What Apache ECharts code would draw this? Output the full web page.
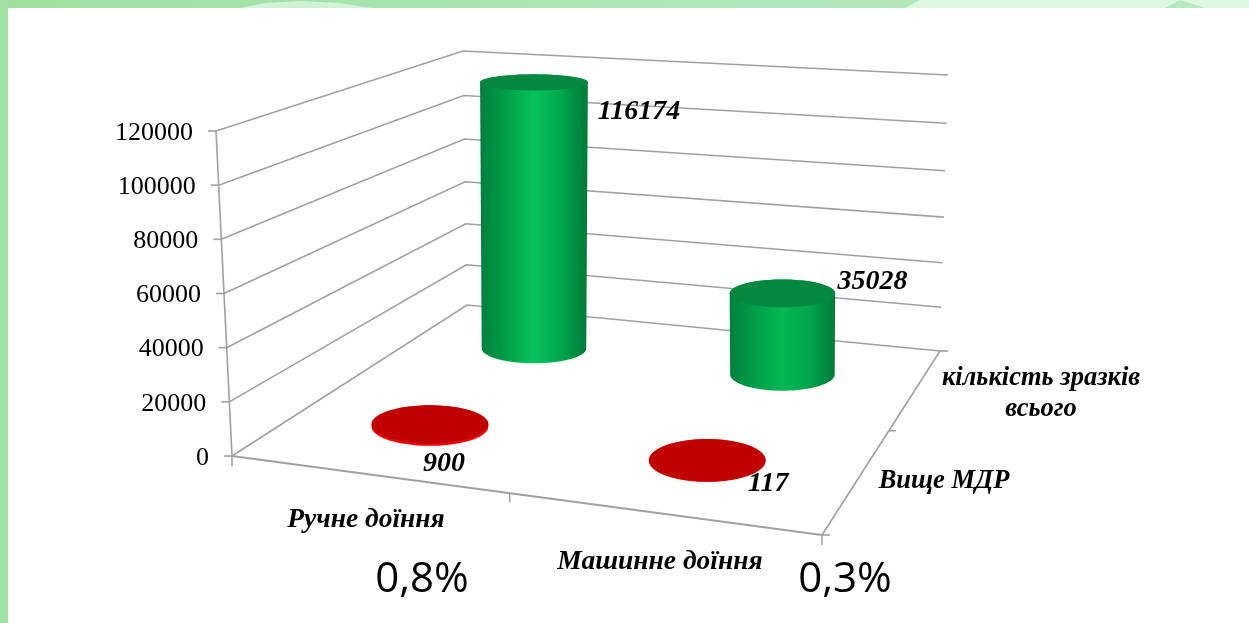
<!DOCTYPE html>
<html>
<head>
<meta charset="utf-8">
<style>html,body{margin:0;padding:0;background:#fff}#chart{width:1249px;height:623px}</style>
<script src="https://cdn.jsdelivr.net/npm/echarts@6/dist/echarts.min.js"></script>
</head>
<body>
<div id="chart"></div>
<script>
// Milking type along the front edge, sample group along the depth edge.
const categories = ['Ручне доїння', 'Машинне доїння'];
const depthGroups = ['Вище МДР', 'кількість зразків\nвсього'];
const totalSamples = [116174, 35028];
const aboveLimit = [900, 117];
const shares = ['0,8%', '0,3%'];
const axisMax = 120000;
const axisStep = 20000;

// Corners of the box, as [front-left, front-right, back-right, back-left].
const FLOOR = [[232, 456], [822, 535], [940, 351], [467, 305]];
const CEILING = [[216, 131], [838, 190], [948, 75], [463, 51]];
// The far corners foreshorten slightly with height.
const EASE = [0, 0, -0.06, -0.06];
const RADIUS_U = 0.105;
const RADIUS_V = 0.108;

const GRID_LINE = '#a0a0a0';
const SERIF = '"Liberation Serif","Times New Roman",serif';

const lerp = (a, b, t) => a + (b - a) * t;

// Maps the unit square onto a quadrilateral (projective map).
function quadPoint(q, u, v) {
  const [p0, p1, p2, p3] = q;
  const dx1 = p1[0] - p2[0], dx2 = p3[0] - p2[0], sx = p0[0] - p1[0] + p2[0] - p3[0];
  const dy1 = p1[1] - p2[1], dy2 = p3[1] - p2[1], sy = p0[1] - p1[1] + p2[1] - p3[1];
  const den = dx1 * dy2 - dx2 * dy1;
  const g = (sx * dy2 - dx2 * sy) / den;
  const h = (dx1 * sy - sx * dy1) / den;
  const a = p1[0] - p0[0] + g * p1[0], b = p3[0] - p0[0] + h * p3[0], c = p0[0];
  const d = p1[1] - p0[1] + g * p1[1], e = p3[1] - p0[1] + h * p3[1], f = p0[1];
  const w = g * u + h * v + 1;
  return [(a * u + b * v + c) / w, (d * u + e * v + f) / w];
}

// A point in the box: u along the front, v into the depth, h up the value axis.
function project(u, v, h) {
  const q = FLOOR.map((p, i) => {
    const t = h + EASE[i] * h * (1 - h);
    return [lerp(p[0], CEILING[i][0], t), lerp(p[1], CEILING[i][1], t)];
  });
  return quadPoint(q, u, v);
}

const heightOf = (api, value) => {
  const y0 = api.coord([0, 0])[1];
  const yMax = api.coord([0, axisMax])[1];
  return (y0 - api.coord([0, value])[1]) / (y0 - yMax);
};

const line = (a, b, width) => ({
  type: 'line', silent: true,
  shape: { x1: a[0], y1: a[1], x2: b[0], y2: b[1] },
  style: { stroke: GRID_LINE, lineWidth: width || 1.6, fill: null }
});
const text = (str, x, y, font, extra) => ({
  type: 'text', silent: true,
  style: Object.assign({ text: str, x, y, font, fill: '#000', align: 'center', verticalAlign: 'middle' }, extra || {})
});

// Walls, floor, ticks and the fixed captions around the box.
function renderFrame(params, api) {
  const children = [];
  for (let v = 0; v <= axisMax; v += axisStep) {
    const h = heightOf(api, v);
    const front = project(0, 0, h), back = project(0, 1, h), right = project(1, 1, h);
    children.push({
      type: 'polyline', silent: true,
      shape: { points: [front, back, right] },
      style: { stroke: GRID_LINE, lineWidth: 1.6, fill: null }
    });
    children.push(line(front, [front[0] - 8, front[1]]));
    children.push(text(String(v), front[0] - 23, front[1] + 2, '26px ' + SERIF, { align: 'right' }));
  }
  const fl = project(0, 0, 0), fr = project(1, 0, 0), br = project(1, 1, 0), bm = project(1, 0.5, 0), fm = project(0.5, 0, 0);
  children.push(line(fl, project(0, 0, 1)));
  children.push(line(fl, fr, 2));
  children.push(line(fr, br));
  children.push(line(fl, [fl[0], fl[1] + 10]));
  children.push(line(fm, [fm[0], fm[1] + 9]));
  children.push(line(fr, [fr[0], fr[1] + 10]));
  children.push(line(fr, [fr[0] + 8, fr[1]]));
  children.push(line(bm, [bm[0] + 7, bm[1]]));
  children.push(line(br, [br[0] + 8, br[1]]));

  children.push(text(categories[0], 366, 520, 'italic bold 27.5px ' + SERIF));
  children.push(text(categories[1], 660, 562, 'italic bold 27.5px ' + SERIF));
  children.push(text(depthGroups[0], 944, 481, 'italic bold 26.5px ' + SERIF));
  children.push(text(depthGroups[1], 1041, 394, 'italic bold 26.5px ' + SERIF, { lineHeight: 31 }));
  const shareFont = '42px "Open Sans","Noto Sans",sans-serif';
  children.push(text(shares[0], 422, 580, shareFont));
  children.push(text(shares[1], 845, 580, shareFont));
  return { type: 'group', children };
}

// Upright cylinder: base and top are level ellipses whose size follows the box scale at that depth.
function makeCylinderRenderer(vCentre, look, labelOffsets) {
  return function (params, api) {
    const cat = api.value(0);
    const value = api.value(1);
    const uc = (cat + 0.5) / categories.length;
    const h = heightOf(api, value);
    const cx = project(uc, vCentre, 0)[0];
    const ellipse = (level, from, to) => {
      const c = project(uc, vCentre, level);
      const rx = RADIUS_U * Math.abs(project(1, vCentre, level)[0] - project(0, vCentre, level)[0]);
      const ry = Math.abs(project(uc, vCentre + RADIUS_V, level)[1] - project(uc, vCentre - RADIUS_V, level)[1]) / 2;
      const pts = [];
      for (let i = 0; i <= 48; i++) {
        const t = lerp(from, to, i / 48);
        pts.push([cx + rx * Math.cos(t), c[1] + ry * Math.sin(t)]);
      }
      return pts;
    };
    const baseArc = ellipse(0, 0, Math.PI);
    const rimArc = ellipse(h, Math.PI, Math.PI * 2);
    const topFace = ellipse(h, 0, Math.PI * 2);
    const x0 = Math.min(baseArc[48][0], rimArc[0][0]);
    const x1 = Math.max(baseArc[0][0], rimArc[48][0]);
    const cTop = project(uc, vCentre, h);
    const off = labelOffsets[cat];
    return {
      type: 'group',
      children: [
        {
          type: 'polygon', silent: true,
          shape: { points: baseArc.concat(rimArc) },
          style: { fill: new echarts.graphic.LinearGradient(x0, 0, x1, 0, look.side(cat), true) }
        },
        { type: 'polygon', silent: true, shape: { points: topFace }, style: { fill: look.top } },
        text(api.value(1), cx + off[0], cTop[1] + off[1], 'italic bold 28px ' + SERIF)
      ]
    };
  };
}

const greenCentres = ['#06c25c', '#04b854'];
const greenLook = {
  side: (cat) => [
    { offset: 0, color: '#00803c' }, { offset: 0.25, color: '#00a04a' },
    { offset: 0.5, color: greenCentres[cat] }, { offset: 0.75, color: '#00a64d' }, { offset: 1, color: '#007a39' }
  ],
  top: '#04873f'
};
const redLook = {
  side: () => [{ offset: 0, color: '#f40000' }, { offset: 1, color: '#f40000' }],
  top: '#c00000'
};

const chart = echarts.init(document.getElementById('chart'), null, { renderer: 'canvas' });
chart.setOption({
  animation: false,
  backgroundColor: '#fff',
  grid: { left: 215, top: 131, width: 700, height: 325 },
  xAxis: { type: 'category', data: categories, show: false },
  yAxis: { type: 'value', min: 0, max: axisMax, interval: axisStep, show: false },
  graphic: [
    {
      type: 'rect', silent: true, shape: { x: 0, y: 0, width: 1249, height: 8 },
      style: {
        fill: new echarts.graphic.LinearGradient(0, 0, 1, 0, [
          { offset: 0, color: '#9fe0a2' }, { offset: 0.7, color: '#b2e8bb' }, { offset: 1, color: '#b5e9be' }
        ])
      }
    },
    { type: 'rect', silent: true, shape: { x: 0, y: 0, width: 8, height: 623 }, style: { fill: '#a2e1a6' } },
    { type: 'polygon', silent: true, shape: { points: [[240, 8], [265, 3], [300, 1], [340, 3], [372, 8]] }, style: { fill: '#d0f2d3' } },
    { type: 'polygon', silent: true, shape: { points: [[905, 8], [920, 0], [1249, 0], [1249, 8], [1205, 8], [1180, 0], [1165, 8]] }, style: { fill: '#def7e0' } }
  ],
  series: [
    { type: 'custom', data: [[0, 0]], renderItem: renderFrame, clip: false, silent: true, z: 1 },
    {
      type: 'custom', name: depthGroups[1], clip: false, silent: true, z: 2,
      data: totalSamples.map((v, i) => [i, v]),
      renderItem: makeCylinderRenderer(0.75, greenLook, [[105, 29], [90, -12]])
    },
    {
      type: 'custom', name: depthGroups[0], clip: false, silent: true, z: 3,
      data: aboveLimit.map((v, i) => [i, v]),
      renderItem: makeCylinderRenderer(0.25, redLook, [[14, 39], [61, 23]])
    }
  ]
});
</script>
</body>
</html>
